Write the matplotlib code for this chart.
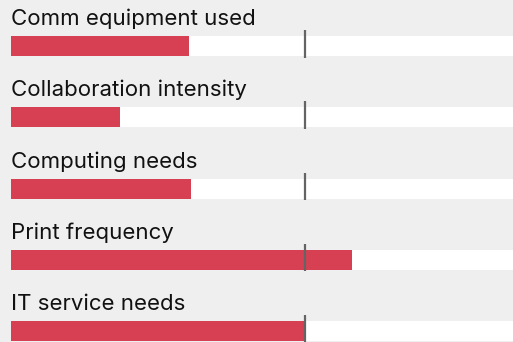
import matplotlib
matplotlib.use("Agg")
import matplotlib.pyplot as plt

labels = [
    "Comm equipment used",
    "Collaboration intensity",
    "Computing needs",
    "Print frequency",
    "IT service needs",
]
values = [60.5, 37, 61.2, 116, 99.7]
targets = [100, 100, 100, 100, 100]

BG = "#efefef"
RED = "#d73f52"
MARK = "#646464"

W, H = 513, 342
fig = plt.figure(figsize=(W / 100, H / 100), dpi=100, facecolor=BG)
ax = fig.add_axes([0, 0, 1, 1])
ax.set_facecolor(BG)

# x in value units: 0 at pixel 11, 100 at pixel 305
px_per_unit = 2.94
ax.set_xlim(-11 / px_per_unit, (W - 11) / px_per_unit)
ax.set_ylim(H, 0)
ax.axis("off")

row_top, row_pitch, bar_h = 36, 71.25, 20
for i, (lab, v, t) in enumerate(zip(labels, values, targets)):
    top = row_top + i * row_pitch
    ax.barh(top + bar_h / 2, 200, height=bar_h, left=0, color="white", zorder=1)
    ax.barh(top + bar_h / 2, v, height=bar_h, left=0, color=RED, zorder=2)
    ax.plot([t, t], [top - 6, top + bar_h + 1.5], color=MARK, lw=1.6,
            solid_capstyle="butt", zorder=3)
    ax.text(0, top - 11, lab, fontsize=16, family=["Inter", "DejaVu Sans"],
            color="#111111", va="baseline", ha="left")

fig.savefig("out.png", dpi=100, facecolor=BG)
